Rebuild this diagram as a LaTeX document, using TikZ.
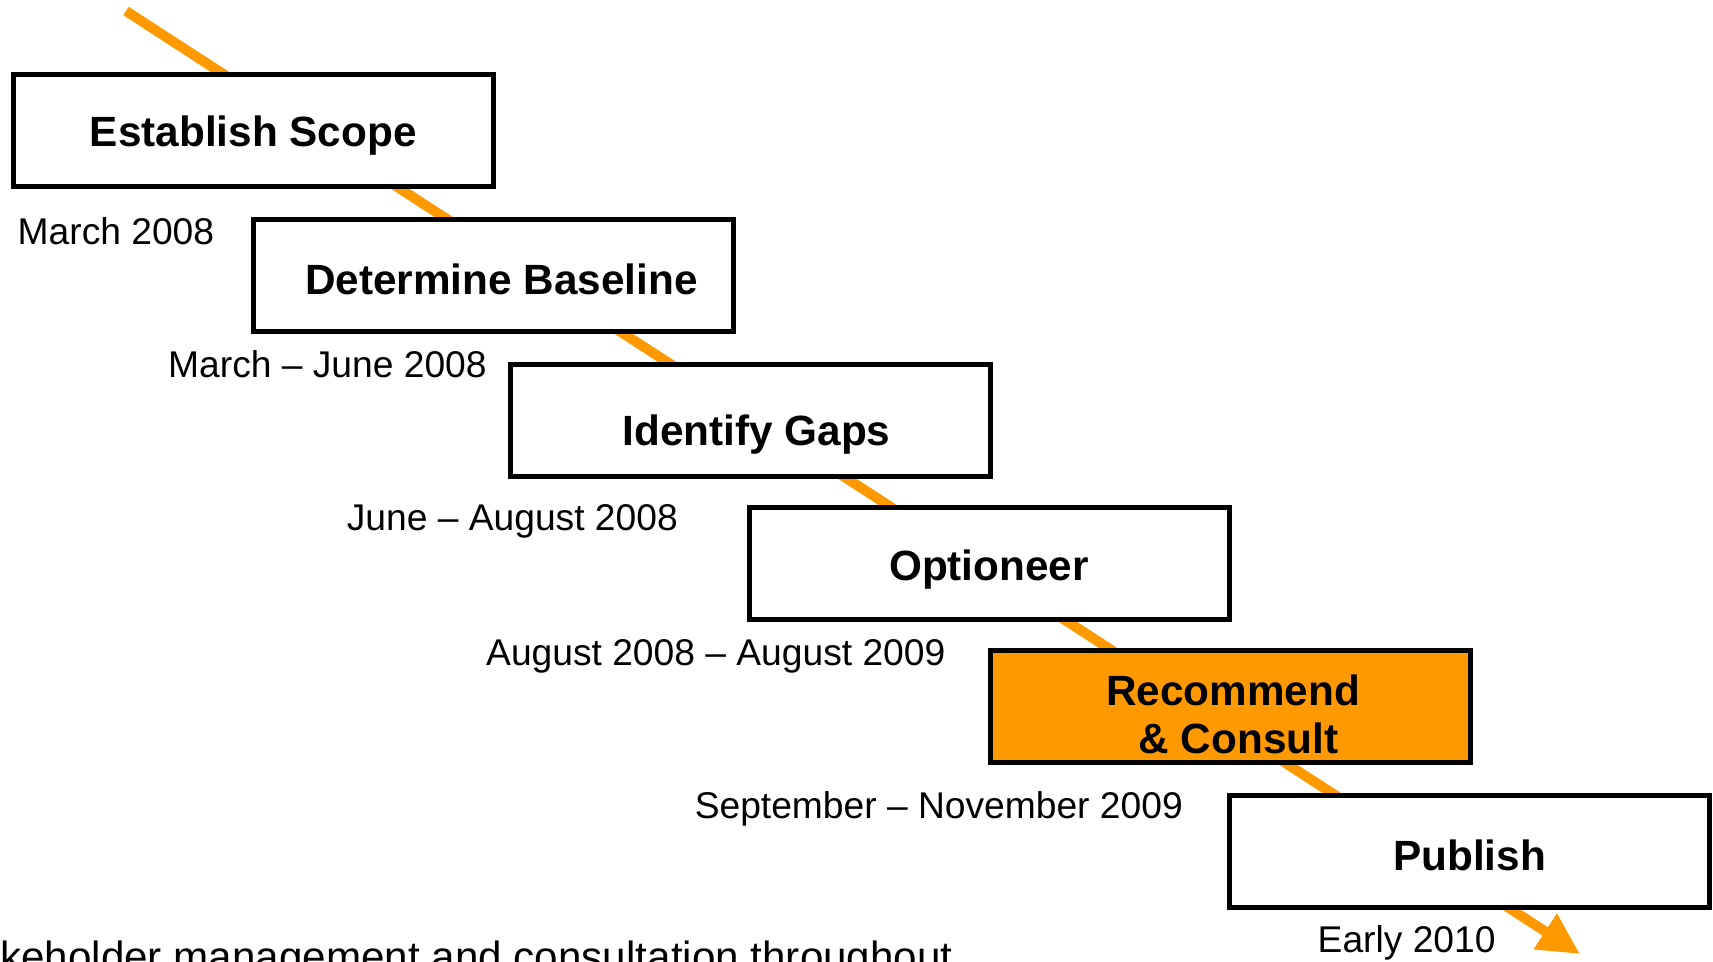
\documentclass[tikz,border=0pt]{standalone}
\usepackage{fontspec}
\setmainfont{Liberation Sans}
\usetikzlibrary{arrows.meta,backgrounds}
\definecolor{ora}{RGB}{255,153,0}
\begin{document}
\begin{tikzpicture}[x=1pt,y=-1pt,
  stage/.style={draw=black, line width=5pt, fill=white, minimum width=480pt, minimum height=112pt, inner sep=0pt},
  stagetext/.style={font=\fontsize{42.3}{48}\selectfont\bfseries, anchor=base, inner sep=0pt},
  datetext/.style={font=\fontsize{37.2}{44}\selectfont, inner sep=0pt},
  notetext/.style={font=\fontsize{42.2}{48}\selectfont, anchor=base west, inner sep=0pt},
  flow/.style={draw=ora, line width=10pt, -{Triangle[length=41.5pt,width=40pt]}}]
\useasboundingbox (0,0) rectangle (1713,961);
\clip (0,0) rectangle (1713,961);
% stage boxes
\node[stage] (b1) at (253.2,130.7) {};
\node[stage] (b2) at (493.3,275) {};
\node[stage] (b3) at (750.5,420) {};
\node[stage] (b4) at (989,563) {};
\node[stage, fill=ora] (b5) at (1230,706.5) {};
\node[stage] (b6) at (1469.5,851) {};
% box labels
\node[stagetext] (t1) at (253.2,146.7) {Establish Scope};
\node[stagetext] (t2) at (501.5,294) {Determine Baseline};
\node[stagetext] (t3) at (756.5,445.7) {Identify Gaps};
\node[stagetext] (t4) at (989,580) {Optioneer};
\node[stagetext] (t5a) at (1233,705) {Recommend};
\node[stagetext] (t5b) at (1238.5,753) {\& Consult};
\node[stagetext] (t6) at (1469.5,870) {Publish};
% dates
\node[datetext, anchor=base west] (d1) at (17.5,244.3) {March 2008};
\node[datetext, anchor=base west] (d2) at (168,377) {March – June 2008};
\node[datetext, anchor=base east] (d3) at (678,530) {June – August 2008};
\node[datetext, anchor=base west] (d4) at (486,665) {August 2008 – August 2009};
\node[datetext, anchor=base east] (d5) at (1183,818.3) {September – November 2009};
\node[datetext, anchor=base west] (d6) at (1317.5,952.7) {Early 2010};
\node[notetext] (note) at (0,971) {keholder management and consultation throughout};
% flow line behind boxes
\coordinate (s) at (126,11);
\coordinate (e) at (1580,954);
\begin{pgfonlayer}{background}
\draw[flow] (s) -- (e);
\end{pgfonlayer}
\end{tikzpicture}
\end{document}
